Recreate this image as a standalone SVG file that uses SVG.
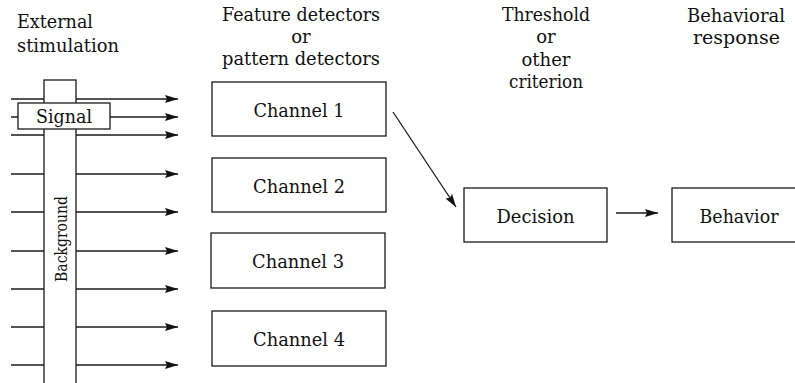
<svg xmlns="http://www.w3.org/2000/svg" width="795" height="383" viewBox="0 0 795 383">
<style>
  text { font-family: "DejaVu Serif", "Liberation Serif", serif; fill: #111; }
  .h { font-size: 18px; }
  .l { font-size: 19px; text-anchor: middle; }
  .bg { font-size: 16px; text-anchor: middle; }
  .box { fill: #fff; stroke: #1a1a1a; stroke-width: 1.3; }
  .ln { stroke: #1a1a1a; stroke-width: 1.3; fill: none; }
</style>
<defs>
  <marker id="ah" markerUnits="userSpaceOnUse" markerWidth="14" markerHeight="9" refX="13" refY="4" orient="auto">
    <path d="M0,0 L13,4 L0,8 L2,4 z" fill="#111"/>
  </marker>
</defs>

<g id="headers">
  <text class="h" x="17" y="28" textLength="76" lengthAdjust="spacingAndGlyphs">External</text>
  <text class="h" x="17" y="52" textLength="102" lengthAdjust="spacingAndGlyphs">stimulation</text>
  <text class="h" x="222" y="21" textLength="158" lengthAdjust="spacingAndGlyphs">Feature detectors</text>
  <text class="h" x="301" y="43" text-anchor="middle">or</text>
  <text class="h" x="222" y="65" textLength="158" lengthAdjust="spacingAndGlyphs">pattern detectors</text>
  <text class="h" x="502" y="21" textLength="88" lengthAdjust="spacingAndGlyphs">Threshold</text>
  <text class="h" x="546" y="43" text-anchor="middle">or</text>
  <text class="h" x="546" y="66" text-anchor="middle">other</text>
  <text class="h" x="509" y="88" textLength="74" lengthAdjust="spacingAndGlyphs">criterion</text>
  <text class="h" x="687" y="22" textLength="98" lengthAdjust="spacingAndGlyphs">Behavioral</text>
  <text class="h" x="693" y="44" textLength="87" lengthAdjust="spacingAndGlyphs">response</text>
</g>

<g id="connectors">
  <line class="ln" x1="11" y1="99" x2="178" y2="99" marker-end="url(#ah)"/>
  <line class="ln" x1="11" y1="117" x2="178" y2="117" marker-end="url(#ah)"/>
  <line class="ln" x1="11" y1="135" x2="178" y2="135" marker-end="url(#ah)"/>
  <line class="ln" x1="11" y1="174" x2="178" y2="174" marker-end="url(#ah)"/>
  <line class="ln" x1="11" y1="212" x2="178" y2="212" marker-end="url(#ah)"/>
  <line class="ln" x1="11" y1="251" x2="178" y2="251" marker-end="url(#ah)"/>
  <line class="ln" x1="11" y1="289" x2="178" y2="289" marker-end="url(#ah)"/>
  <line class="ln" x1="11" y1="327" x2="178" y2="327" marker-end="url(#ah)"/>
  <line class="ln" x1="11" y1="365" x2="178" y2="365" marker-end="url(#ah)"/>
  <line class="ln" x1="393" y1="112" x2="456" y2="207" marker-end="url(#ah)"/>
  <line class="ln" x1="616" y1="213" x2="658" y2="213" marker-end="url(#ah)"/>
</g>

<g id="background">
  <rect class="box" x="44" y="80" width="32" height="305"/>
  <text class="bg" transform="translate(66.5,239) rotate(-90)" textLength="86" lengthAdjust="spacingAndGlyphs">Background</text>
</g>

<g id="signal">
  <rect class="box" x="18" y="103" width="92" height="26"/>
  <text class="l" x="64" y="123" textLength="56" lengthAdjust="spacingAndGlyphs">Signal</text>
</g>

<g id="channel1">
  <rect class="box" x="212" y="82" width="174" height="54"/>
  <text class="l" x="299" y="117" textLength="91" lengthAdjust="spacingAndGlyphs">Channel 1</text>
</g>
<g id="channel2">
  <rect class="box" x="212" y="158" width="174" height="54"/>
  <text class="l" x="299" y="193" textLength="92" lengthAdjust="spacingAndGlyphs">Channel 2</text>
</g>
<g id="channel3">
  <rect class="box" x="211" y="233" width="174" height="55"/>
  <text class="l" x="298" y="268" textLength="92" lengthAdjust="spacingAndGlyphs">Channel 3</text>
</g>
<g id="channel4">
  <rect class="box" x="212" y="311" width="174" height="55"/>
  <text class="l" x="299" y="346" textLength="92" lengthAdjust="spacingAndGlyphs">Channel 4</text>
</g>

<g id="decision">
  <rect class="box" x="464" y="188" width="143" height="54"/>
  <text class="l" x="535.5" y="223" textLength="78" lengthAdjust="spacingAndGlyphs">Decision</text>
</g>
<g id="behavior">
  <rect class="box" x="672" y="188" width="130" height="54"/>
  <text class="l" x="739" y="223" textLength="79" lengthAdjust="spacingAndGlyphs">Behavior</text>
</g>
</svg>
